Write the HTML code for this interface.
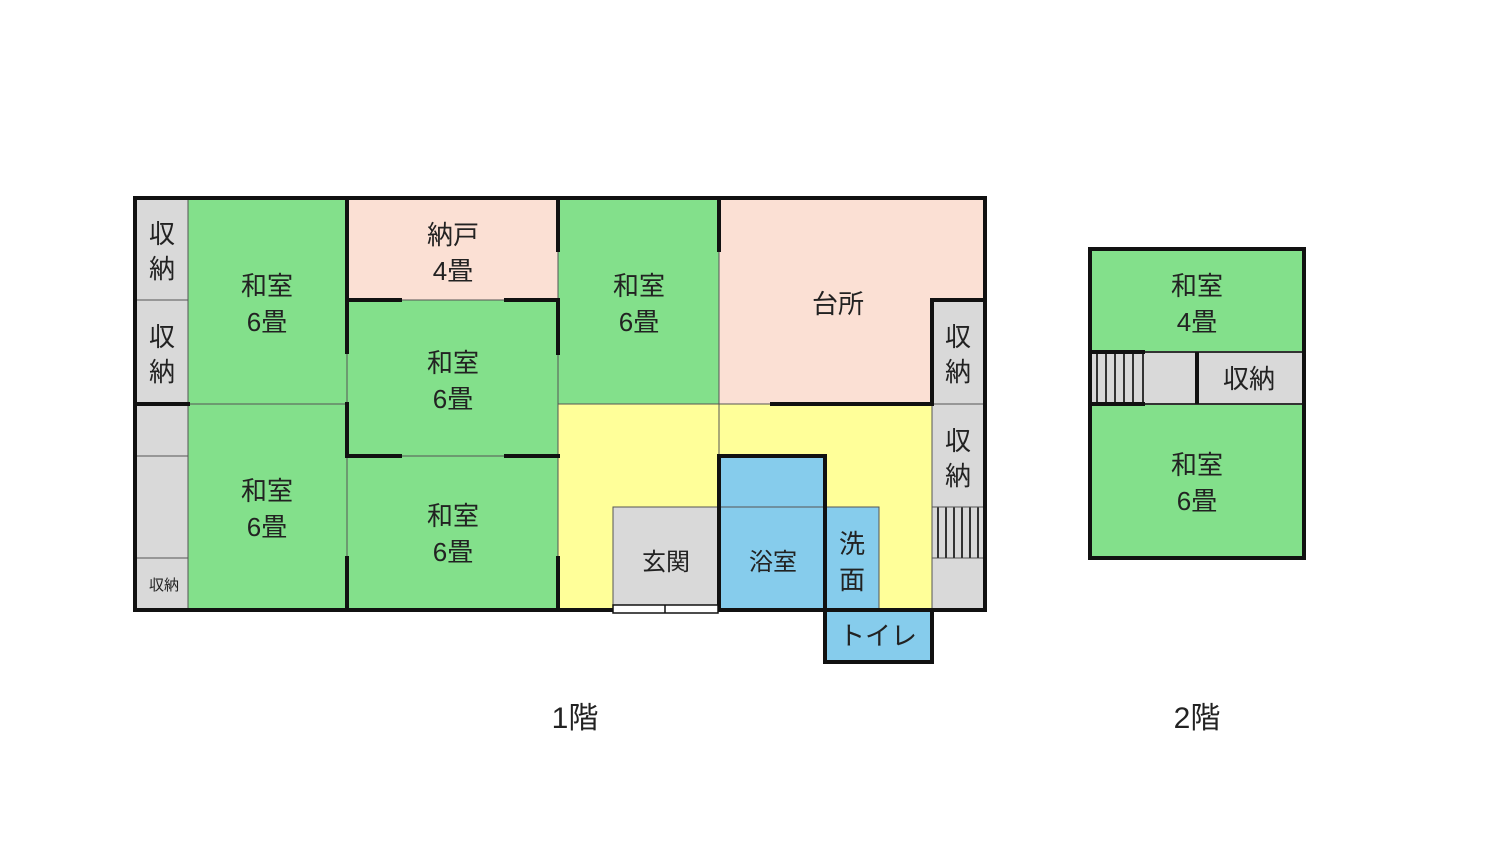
<!DOCTYPE html>
<html><head><meta charset="utf-8"><style>
html,body{margin:0;padding:0;background:#fff;}
svg{display:block;}
text{font-family:"Liberation Sans","Noto Sans CJK JP",sans-serif;fill:#222;text-anchor:middle;}
</style></head><body>
<svg width="1500" height="844" viewBox="0 0 1500 844">
<g stroke="#555" stroke-width="1">
<!-- left storage -->
<rect x="135" y="198" width="53" height="412" fill="#d9d9d9"/>
<line x1="135" y1="300" x2="188" y2="300"/>
<line x1="135" y1="456" x2="188" y2="456"/>
<line x1="135" y1="558" x2="188" y2="558"/>
<rect x="188" y="198" width="159" height="206" fill="#83e08b"/>
<rect x="188" y="404" width="159" height="206" fill="#83e08b"/>
<rect x="347" y="198" width="211" height="102" fill="#fbe0d4"/>
<rect x="347" y="300" width="211" height="156" fill="#83e08b"/>
<rect x="347" y="456" width="211" height="154" fill="#83e08b"/>
<rect x="558" y="198" width="161" height="206" fill="#83e08b"/>
<rect x="719" y="198" width="266" height="206" fill="#fbe0d4"/>
<rect x="932" y="300" width="53" height="104" fill="#d9d9d9"/>
<rect x="558" y="404" width="374" height="206" fill="#ffff99"/>
<rect x="932" y="404" width="53" height="206" fill="#d9d9d9"/>
<rect x="613" y="507" width="106" height="103" fill="#d9d9d9"/>
<rect x="719" y="456" width="106" height="154" fill="#86ccec"/>
<line x1="719" y1="507" x2="825" y2="507"/>
<rect x="825" y="507" width="54" height="103" fill="#86ccec"/>
<line x1="719" y1="404" x2="719" y2="456"/>
<line x1="932" y1="558" x2="985" y2="558" stroke="#555"/>
</g>
<!-- stairs 1F -->
<g stroke="#333" stroke-width="2">
<line x1="938" y1="507" x2="938" y2="558"/><line x1="946" y1="507" x2="946" y2="558"/>
<line x1="954" y1="507" x2="954" y2="558"/><line x1="962" y1="507" x2="962" y2="558"/>
<line x1="970" y1="507" x2="970" y2="558"/><line x1="978" y1="507" x2="978" y2="558"/>
</g>
<line x1="932" y1="507" x2="985" y2="507" stroke="#555"/>
<!-- thick walls -->
<g stroke="#111" stroke-width="4" fill="none" stroke-linecap="square">
<rect x="135" y="198" width="850" height="412"/>
<line x1="135" y1="404" x2="188" y2="404"/>
<line x1="347" y1="198" x2="347" y2="352"/>
<line x1="347" y1="404" x2="347" y2="456"/>
<line x1="347" y1="558" x2="347" y2="610"/>
<line x1="347" y1="300" x2="400" y2="300"/><line x1="506" y1="300" x2="558" y2="300"/>
<line x1="347" y1="456" x2="400" y2="456"/><line x1="506" y1="456" x2="558" y2="456"/>
<line x1="558" y1="198" x2="558" y2="250"/>
<line x1="558" y1="300" x2="558" y2="353"/>
<line x1="558" y1="558" x2="558" y2="610"/>
<line x1="719" y1="198" x2="719" y2="250"/>
<line x1="772" y1="404" x2="932" y2="404"/>
<line x1="932" y1="300" x2="985" y2="300"/>
<line x1="932" y1="300" x2="932" y2="404"/>
<line x1="719" y1="456" x2="825" y2="456"/>
<line x1="719" y1="456" x2="719" y2="610"/>
<line x1="825" y1="456" x2="825" y2="610"/>
<rect x="825" y="610" width="107" height="52" fill="#86ccec"/>
</g>
<rect x="613" y="605" width="105" height="8" fill="#fff" stroke="#111" stroke-width="1.5"/>
<line x1="665" y1="605" x2="665" y2="613" stroke="#111" stroke-width="1.5"/>
<!-- labels 1F -->
<g font-size="26">
<text x="162" y="243">収</text><text x="162" y="278">納</text>
<text x="162" y="346">収</text><text x="162" y="381">納</text>
<text x="164" y="590" font-size="15">収納</text>
<text x="267" y="295">和室</text><text x="267" y="331">6畳</text>
<text x="267" y="500">和室</text><text x="267" y="536">6畳</text>
<text x="453" y="244">納戸</text><text x="453" y="280">4畳</text>
<text x="453" y="372">和室</text><text x="453" y="408">6畳</text>
<text x="453" y="525">和室</text><text x="453" y="561">6畳</text>
<text x="639" y="295">和室</text><text x="639" y="331">6畳</text>
<text x="838" y="313">台所</text>
<text x="958" y="346">収</text><text x="958" y="381">納</text>
<text x="958" y="450">収</text><text x="958" y="485">納</text>
<text x="666" y="570" font-size="24">玄関</text>
<text x="773" y="570" font-size="24">浴室</text>
<text x="852" y="553">洗</text><text x="852" y="589">面</text>
<text x="878" y="645">トイレ</text>
<text x="575" y="728" font-size="30">1階</text>
<text x="1197" y="728" font-size="30">2階</text>
</g>
<!-- 2F -->
<rect x="1090" y="249" width="214" height="309" fill="#83e08b"/>
<rect x="1090" y="352" width="214" height="52" fill="#d9d9d9" stroke="#333" stroke-width="2"/>
<g stroke="#333" stroke-width="2">
<line x1="1097" y1="352" x2="1097" y2="404"/><line x1="1106" y1="352" x2="1106" y2="404"/>
<line x1="1115" y1="352" x2="1115" y2="404"/><line x1="1124" y1="352" x2="1124" y2="404"/>
<line x1="1133" y1="352" x2="1133" y2="404"/><line x1="1143" y1="352" x2="1143" y2="404"/>
</g>
<g stroke="#111" stroke-width="4" fill="none">
<line x1="1090" y1="352" x2="1145" y2="352"/><line x1="1090" y1="404" x2="1145" y2="404"/>
<line x1="1197" y1="352" x2="1197" y2="404"/>
<rect x="1090" y="249" width="214" height="309"/>
</g>
<g font-size="26">
<text x="1197" y="295">和室</text><text x="1197" y="331">4畳</text>
<text x="1249" y="388">収納</text>
<text x="1197" y="474">和室</text><text x="1197" y="510">6畳</text>
</g>
</svg>
</body></html>
